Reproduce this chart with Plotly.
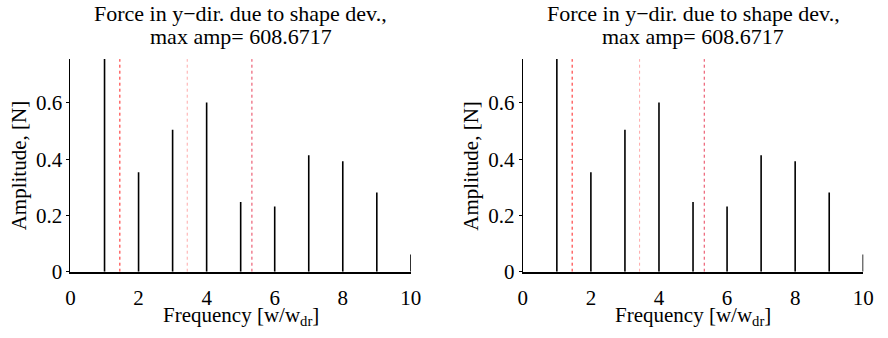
import plotly.graph_objects as go

# Data
freq = [1, 2, 3, 4, 5, 6, 7, 8, 9, 10]
amp = [0.756, 0.354, 0.505, 0.602, 0.248, 0.232, 0.414, 0.393, 0.282, 0.061]
res_freq = [1.45, 3.43, 5.33]
res_colors = ["#ff2020", "#ffaaaa", "#e8405a"]
res_dash = ["dot", "dot", "dot"]
xticks = [0, 2, 4, 6, 8, 10]
yticks = [0, 0.2, 0.4, 0.6]
ytick_text = ["0", "0.2", "0.4", "0.6"]
ymax = 0.756
title_lines = ["Force in y\u2212dir. due to shape dev.,", "max amp= 608.6717"]
xlabel = "Frequency [w/w<sub>dr</sub>]"
ylabel = "Amplitude, [N]"

FONT = "Liberation Serif"
H = 338.0
W = 888.0

fig = go.Figure()

domains = [(66.7 / W, 413.3 / W), (527.3 / W, 874 / W)]
ydom = (1 - 281.7 / H, 1 - 61.3 / H)

for i, dom in enumerate(domains):
    xa = "x" if i == 0 else "x2"
    ya = "y" if i == 0 else "y2"
    # stems
    sx, sy = [], []
    for f, a in zip(freq, amp):
        sx += [f, f, None]
        sy += [0, a, None]
    fig.add_trace(go.Scatter(x=sx, y=sy, mode="lines",
                             line=dict(color="black", width=1.6),
                             xaxis=xa, yaxis=ya, showlegend=False, hoverinfo="skip"))
    # resonance lines
    for rf, c, d in zip(res_freq, res_colors, res_dash):
        fig.add_trace(go.Scatter(x=[rf, rf], y=[0, ymax], mode="lines",
                                 line=dict(color=c, width=1, dash=d),
                                 xaxis=xa, yaxis=ya, showlegend=False, hoverinfo="skip"))
    axis_common = dict(showgrid=False, zeroline=False, showline=True,
                       linecolor="black", mirror=False,
                       tickfont=dict(family=FONT, size=21, color="black"))
    xkey = "xaxis" if i == 0 else "xaxis2"
    ykey = "yaxis" if i == 0 else "yaxis2"
    fig.update_layout(**{
        xkey: dict(domain=list(dom), range=[0, 10], anchor=ya,
                   tickvals=xticks, ticks="", linewidth=2.2,
                   ticklabelstandoff=6, **axis_common),
        ykey: dict(domain=list(ydom), range=[0, ymax], anchor=xa,
                   tickvals=yticks, ticktext=ytick_text,
                   ticks="outside", ticklen=3, tickcolor="black",
                   linewidth=1.3, **axis_common),
    })
    cx = (dom[0] + dom[1]) / 2
    for line, ypix in zip(title_lines, [13.5, 37.5]):
        fig.add_annotation(text=line, x=cx, y=1 - ypix / H, xref="paper", yref="paper",
                           xanchor="center", yanchor="middle", showarrow=False,
                           font=dict(family=FONT, size=22, color="black"))
    fig.add_annotation(text=xlabel, x=cx, y=1 - 328 / H, xref="paper", yref="paper",
                       xanchor="center", yanchor="middle", showarrow=False,
                       font=dict(family=FONT, size=21, color="black"))
    fig.add_annotation(text=ylabel, x=dom[0] - 53 / W, y=1 - 172 / H,
                       xref="paper", yref="paper", xanchor="center", yanchor="middle",
                       textangle=-90, showarrow=False,
                       font=dict(family=FONT, size=21, color="black"))

fig.update_layout(width=888, height=338, margin=dict(l=0, r=0, t=0, b=0),
                  font=dict(family=FONT, size=20, color="black"),
                  paper_bgcolor="white", plot_bgcolor="white")

fig.write_html("out.html")
